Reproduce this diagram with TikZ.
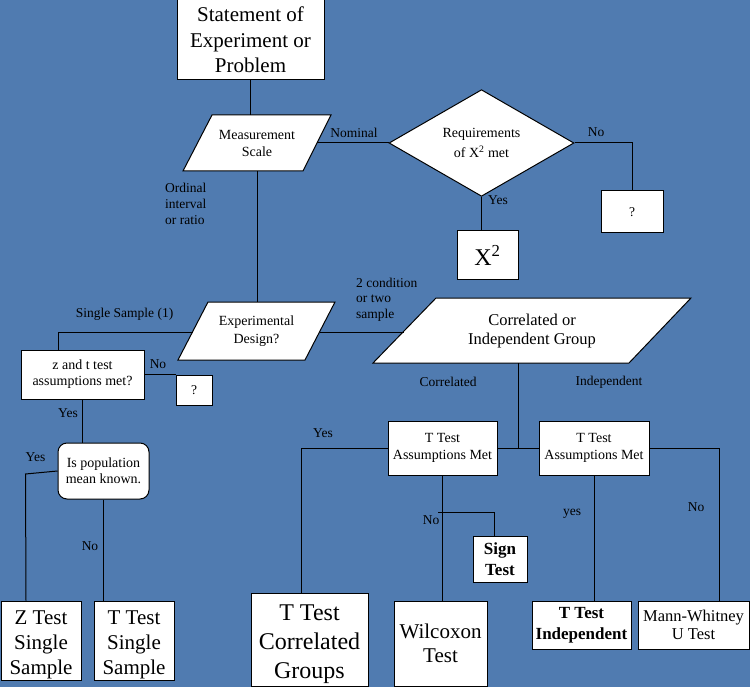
\documentclass[tikz,border=0pt]{standalone}
\usepackage{fontspec}
\setmainfont{Liberation Serif}
\usetikzlibrary{shapes.geometric}
\definecolor{bg}{RGB}{80,123,176}
\newcommand\fsz[2]{\fontsize{#1}{#2}\selectfont}
\tikzset{
 box/.style={draw=black, fill=white, line width=1pt, inner sep=0pt, align=center},
 lbl/.style={inner sep=0pt, align=left, font=\fsz{13.5}{16}},
 wire/.style={draw=black, line width=1pt},
 para/.style={draw=black, fill=white, line width=1pt},
 ptext/.style={inner sep=0pt, align=center},
}
\begin{document}
\begin{tikzpicture}[x=1pt,y=-1pt]
\fill[bg] (0,0) rectangle (750,687);
\useasboundingbox (0,0) rectangle (750,687);

% parallelogram corners
\coordinate (msA) at (212,115); \coordinate (msB) at (331,115);
\coordinate (msC) at (303,171); \coordinate (msD) at (183,171);
\coordinate (edA) at (208,302); \coordinate (edB) at (335,302);
\coordinate (edC) at (305,360); \coordinate (edD) at (178,360);
\coordinate (cgA) at (436,298); \coordinate (cgB) at (691,298);
\coordinate (cgC) at (629,363); \coordinate (cgD) at (373,363);
\draw[para] (msA) -- (msB) -- (msC) -- (msD) -- cycle;
\draw[para] (edA) -- (edB) -- (edC) -- (edD) -- cycle;
\draw[para] (cgA) -- (cgB) -- (cgC) -- (cgD) -- cycle;
\node[ptext, font=\fsz{14}{17}] (ms) at (257,143.5) {Measurement\\Scale};
\node[ptext, font=\fsz{14}{18}] (ed) at (256.5,331) {Experimental\\Design?};
\node[ptext, font=\fsz{16.5}{19}] (cig) at (532,331.5) {Correlated or\\Independent Group};

% boxes
\node[box, minimum width=147pt, minimum height=80pt, font=\fsz{21}{25.5}] (stmt) at (250.5,40) {Statement of\\Experiment or\\Problem};
\node[box, diamond, minimum width=185pt, minimum height=82pt, font=\fsz{14}{19.5}] (req) at (481.5,143) {Requirements\\of X\textsuperscript{2} met};
\node[box, minimum width=62pt, minimum height=42pt, font=\fsz{13.5}{16}] (q1) at (632,212) {?};
\node[box, minimum width=61pt, minimum height=49pt, font=\fsz{24}{28}] (chi) at (487.5,255.5) {X\textsuperscript{2}};
\node[box, minimum width=123pt, minimum height=49pt, font=\fsz{14}{16}] (zt) at (82.5,374.5) {z and t test\\assumptions met?};
\node[box, minimum width=36pt, minimum height=30pt, font=\fsz{13.5}{16}] (q2) at (194,390) {?};
\node[box, rounded corners=9pt, minimum width=91pt, minimum height=56pt, font=\fsz{14}{16}] (pop) at (103.5,471) {Is population\\mean known.};
\node[box, minimum width=80pt, minimum height=79pt, font=\fsz{21}{25}] (zs) at (41,640.5) {\rule{0pt}{22.5pt}Z Test\\Single\\Sample};
\node[box, minimum width=80pt, minimum height=79pt, font=\fsz{21}{25}] (ts) at (134,640.5) {\rule{0pt}{22.5pt}T Test\\Single\\Sample};
\node[box, minimum width=109pt, minimum height=54pt, font=\fsz{14}{17}] (tt1) at (442.5,448) {T Test\\Assumptions Met};
\node[box, minimum width=110pt, minimum height=54pt, font=\fsz{14}{17}] (tt2) at (594,448) {T Test\\Assumptions Met};
\node[box, minimum width=117pt, minimum height=93pt, font=\fsz{24}{29}] (tcg) at (309.5,639.5) {\rule{0pt}{25pt}T Test\\Correlated\\Groups};
\node[box, minimum width=93pt, minimum height=85pt, font=\fsz{21}{24.5}] (wil) at (440.5,643.5) {Wilcoxon\\Test};
\node[box, minimum width=54pt, minimum height=46pt, font=\bfseries\fsz{17}{21}] (sign) at (500,559) {Sign\\Test};
\node[box, minimum width=99pt, minimum height=48pt, font=\bfseries\fsz{17}{21}] (tti) at (581.5,625) {T Test\\Independent};
\node[box, minimum width=111pt, minimum height=48pt, font=\fsz{16.5}{18}] (mw) at (693.5,625) {Mann-Whitney\\U Test};

% connector ends
\coordinate (msR) at (317,143);
\coordinate (msBot) at (257,171);
\coordinate (edTop) at (257,302);
\coordinate (edL) at (192.5,332);
\coordinate (edR) at (319.5,332);
\coordinate (cgL) at (404,332);
\coordinate (cgBot) at (518,363);
\coordinate (sj) at (438,512);

% connectors
\draw[wire] (stmt.south) -- (stmt.south |- msA);
\draw[wire] (msR) -- (req.west);
\draw[wire] (req.east) -| (q1.north);
\draw[wire] (req.south) -- (req.south |- chi.north);
\draw[wire] (msBot) -- (edTop);
\draw[wire] (edL) -| ([xshift=-24.5pt]zt.north);
\draw[wire] (zt.east |- q2.north) -- (q2.north west);
\draw[wire] (zt.south) -- (zt.south |- pop.north);
\draw[wire] (pop.west) -- ++(-32,3) -- ([xshift=-15pt]zs.north);
\draw[wire] (pop.south) -- (pop.south |- ts.north);
\draw[wire] (edR) -- (cgL);
\draw[wire] (cgBot) -- (cgBot |- tt1.east);
\draw[wire] (tt1.east) -- (tt2.west);
\draw[wire] (tt1.west) -| ([xshift=-8.5pt]tcg.north);
\draw[wire] (tt1.south) -- (tt1.south |- wil.north);
\draw[wire] (sj) -| ([xshift=-6pt]sign.north);
\draw[wire] (tt2.south) -- (tt2.south |- tti.north);
\draw[wire] (tt2.east) -| ([xshift=25.5pt]mw.north);

% labels
\node[lbl] (lnom) at (354,133) {Nominal};
\node[lbl, anchor=west] (lord) at (165,204) {Ordinal\\interval\\or ratio};
\node[lbl] (lno1) at (596,132) {No};
\node[lbl] (lyes1) at (498,200) {Yes};
\node[lbl] (lss) at (124.5,314) {Single Sample (1)};
\node[lbl, anchor=west, font=\fsz{13.5}{15.5}] (l2c) at (356,299.5) {2 condition\\or two\\sample};
\node[lbl] (lno2) at (158,364) {No};
\node[lbl] (lyes2) at (68,413) {Yes};
\node[lbl] (lyes3) at (35.5,457) {Yes};
\node[lbl] (lno3) at (90,546) {No};
\node[lbl] (lcor) at (448,382) {Correlated};
\node[lbl] (lind) at (609,382) {Independent};
\node[lbl] (lyes4) at (323,433) {Yes};
\node[lbl] (lno4) at (431,520) {No};
\node[lbl] (lyes5) at (572,514) {yes};
\node[lbl] (lno5) at (696,507) {No};
\end{tikzpicture}
\end{document}
